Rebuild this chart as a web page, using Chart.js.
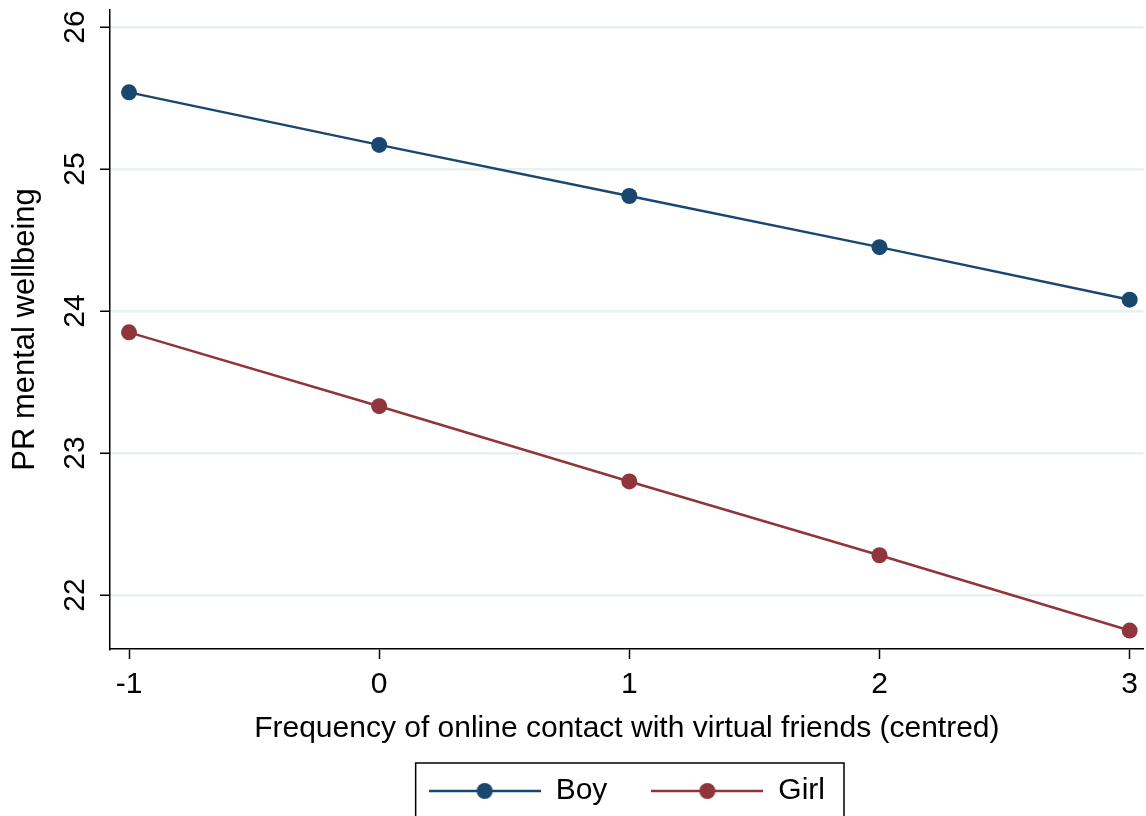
<!DOCTYPE html>
<html>
<head>
<meta charset="utf-8">
<script src="https://cdn.jsdelivr.net/npm/chart.js@4.4.1/dist/chart.umd.min.js"></script>
<style>
  html, body { margin: 0; padding: 0; background: #fff; }
  #wrap { width: 1146px; height: 816px; }
</style>
</head>
<body>
<div id="wrap"><canvas id="chart"></canvas></div>
<script>
// data
const contactFreq = [-1, 0, 1, 2, 3];
const boyWellbeing = [25.54, 25.17, 24.81, 24.45, 24.08];
const girlWellbeing = [23.85, 23.33, 22.80, 22.28, 21.75];
const seriesNames = ['Boy', 'Girl'];
const xTicks = [-1, 0, 1, 2, 3];
const yTicks = [22, 23, 24, 25, 26];

const FONT = '"Liberation Sans", Arial, sans-serif';
const BLUE = '#1a476f';
const RED = '#90353b';

// line-with-dot symbol for the legend
function legendSymbol(color) {
  const c = document.createElement('canvas');
  c.width = 112;
  c.height = 20;
  const g = c.getContext('2d');
  g.strokeStyle = color;
  g.lineWidth = 2.5;
  g.beginPath();
  g.moveTo(0, 10);
  g.lineTo(112, 10);
  g.stroke();
  g.fillStyle = color;
  g.beginPath();
  g.arc(56, 10, 8, 0, Math.PI * 2);
  g.fill();
  return c;
}

const extras = {
  id: 'extras',
  afterDraw(chart) {
    const ctx = chart.ctx;
    const y = chart.scales.y;
    ctx.save();
    // rotated y tick labels
    ctx.font = '30px ' + FONT;
    ctx.fillStyle = '#000';
    ctx.textAlign = 'center';
    ctx.textBaseline = 'middle';
    y.ticks.forEach(t => {
      ctx.save();
      ctx.translate(y.right - 34, y.getPixelForValue(t.value));
      ctx.rotate(-Math.PI / 2);
      ctx.fillText(String(t.value), 0, 0);
      ctx.restore();
    });
    // box round the legend
    const hb = chart.legend.legendHitBoxes;
    const first = hb[0], last = hb[hb.length - 1];
    const left = first.left - 13;
    const right = last.left + last.width + 19;
    const cy = first.top + first.height / 2;
    ctx.strokeStyle = '#000';
    ctx.lineWidth = 1.5;
    ctx.strokeRect(left, cy - 28, right - left, 70);
    ctx.restore();
  }
};

const colors = [BLUE, RED];
const ctx = document.getElementById('chart').getContext('2d');
const myChart = new Chart(ctx, {
  type: 'line',
  data: {
    datasets: [boyWellbeing, girlWellbeing].map((vals, i) => ({
      label: seriesNames[i],
      data: contactFreq.map((x, j) => ({ x: x, y: vals[j] })),
      borderColor: colors[i],
      backgroundColor: colors[i],
      borderWidth: 2.5,
      pointRadius: 8,
      pointHoverRadius: 8,
      pointBorderWidth: 0,
      tension: 0
    }))
  },
  options: {
    responsive: true,
    maintainAspectRatio: false,
    animation: false,
    layout: { autoPadding: false, padding: { top: 10, right: 0, left: 0, bottom: 0 } },
    plugins: {
      tooltip: { enabled: false },
      legend: {
        position: 'bottom',
        fullSize: false,
        labels: {
          usePointStyle: true,
          pointStyleWidth: 112,
          padding: 44,
          color: '#000',
          font: { family: FONT, size: 30 },
          generateLabels: chart => chart.data.datasets.map((d, i) => ({
            text: d.label,
            pointStyle: legendSymbol(colors[i]),
            fillStyle: colors[i],
            strokeStyle: colors[i],
            lineWidth: 0,
            datasetIndex: i
          }))
        }
      }
    },
    scales: {
      x: {
        type: 'linear',
        min: -1.076,
        max: 3.056,
        afterBuildTicks: s => { s.ticks = xTicks.map(v => ({ value: v })); },
        afterFit: s => { s.height = 83; },
        grid: { drawOnChartArea: false, drawTicks: true, tickLength: 10, tickColor: '#000', tickWidth: 1.5 },
        border: { color: '#000', width: 1.5 },
        ticks: { color: '#000', padding: 8, maxRotation: 0, font: { family: FONT, size: 30 } },
        title: {
          display: true,
          text: 'Frequency of online contact with virtual friends (centred)',
          color: '#000',
          font: { family: FONT, size: 30 },
          padding: { top: 0, bottom: -15 }
        }
      },
      y: {
        type: 'linear',
        min: 21.62,
        max: 26.12,
        afterBuildTicks: s => { s.ticks = yTicks.map(v => ({ value: v })); },
        afterFit: s => { s.width = 110; },
        grid: { color: '#e9f0f1', lineWidth: 2.5, drawTicks: true, tickLength: 10, tickColor: '#000', tickWidth: 1.5 },
        border: { color: '#000', width: 1.5 },
        ticks: { display: false },
        title: {
          display: true,
          text: 'PR mental wellbeing',
          color: '#000',
          font: { family: FONT, size: 31 },
          padding: { top: 7, bottom: 0 }
        }
      }
    }
  },
  plugins: [extras]
});
</script>
</body>
</html>
